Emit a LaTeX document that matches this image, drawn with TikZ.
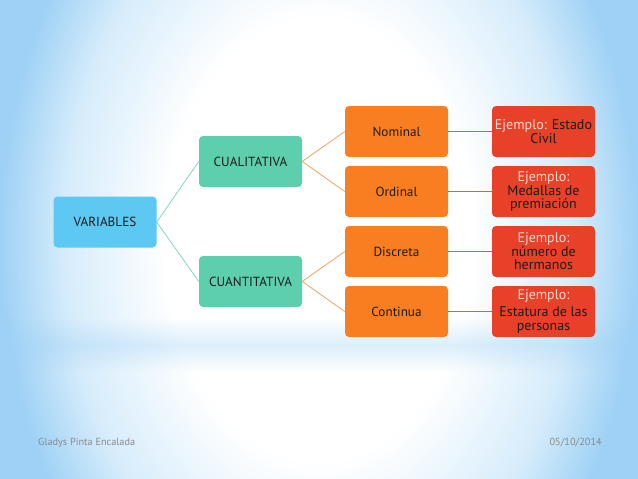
\documentclass[tikz,border=0pt]{standalone}
\usepackage{fontspec}
\setmainfont{PT Sans}
\usetikzlibrary{fadings}
\definecolor{bgblue}{HTML}{9ED1F5}
\definecolor{bgmid}{HTML}{D6ECFB}
\definecolor{varblue}{HTML}{5DC8F2}
\definecolor{teal}{HTML}{5DCFAF}
\definecolor{orng}{HTML}{F97E22}
\definecolor{redb}{HTML}{E8412A}
\definecolor{txtdark}{HTML}{1C1C1C}
\definecolor{lighttxt}{HTML}{FCD8CF}
\definecolor{tealline}{HTML}{86D6C4}
\definecolor{orline}{HTML}{EFA466}
\definecolor{redline}{HTML}{D8614C}
\definecolor{foot}{HTML}{8A8A8A}
\pgfdeclareradialshading{bgshade}{\pgfpoint{0bp}{0bp}}{color(0bp)=(white); color(12bp)=(white); color(20bp)=(bgmid); color(25bp)=(bgblue); color(50bp)=(bgblue)}
\tikzfading[name=bandfade, top color=transparent!100, bottom color=transparent!100, middle color=transparent!65]
\tikzset{
  box/.style={rounded corners=4pt, minimum width=103pt, minimum height=51pt, inner sep=0pt, align=center, text=txtdark, font=\fontsize{13.2}{15}\selectfont},
  varbox/.style={box, fill=varblue},
  catbox/.style={box, fill=teal},
  typbox/.style={box, fill=orng},
  exbox/.style={box, fill=redb, font=\fontsize{14}{13.6}\selectfont},
  tline/.style={draw=tealline, line width=0.8pt},
  oline/.style={draw=orline, line width=0.8pt},
  rline/.style={draw=redline, line width=0.9pt},
  foottxt/.style={text=foot, font=\fontsize{10.3}{11}\selectfont, inner sep=0pt}
}
\newcommand{\ej}{\textcolor{lighttxt}{Ejemplo:}}
\begin{document}
\begin{tikzpicture}[x=1pt,y=-1pt]
\useasboundingbox (0,0) rectangle (638,479);
\begin{scope}
\clip (0,0) rectangle (638,479);
\shade[shading=bgshade] (0,-220) rectangle (638,699);
\fill[bgblue, path fading=bandfade] (0,318) rectangle (638,372);
\end{scope}
% nodes
\node[varbox] (var) at (105,222) {VARIABLES};
\node[catbox] (cual) at (250.5,161.5) {CUALITATIVA};
\node[catbox] (cuan) at (250.5,281.5) {CUANTITATIVA};
\node[typbox] (nom) at (396.5,131.5) {Nominal};
\node[typbox] (ord) at (396.5,191.5) {Ordinal};
\node[typbox] (dis) at (396.5,251.5) {Discreta};
\node[typbox] (con) at (396.5,311.5) {Continua};
\node[exbox] (e1) at (543.5,131.5) {\ej{} Estado\\Civil};
\node[exbox] (e2) at (543.5,191.5) {\ej\\Medallas de\\premiación};
\node[exbox] (e3) at (543.5,251.5) {\ej\\número de\\hermanos};
\node[exbox] (e4) at (543.5,311.5) {\ej\\[3pt]Estatura de las\\personas};
% connectors
\draw[tline] (var.east) -- (cual.west);
\draw[tline] (var.east) -- (cuan.west);
\draw[oline] (cual.east) -- (nom.west);
\draw[oline] (cual.east) -- (ord.west);
\draw[oline] (cuan.east) -- (dis.west);
\draw[oline] (cuan.east) -- (con.west);
\draw[rline] (nom.east) -- (e1.west);
\draw[rline] (ord.east) -- (e2.west);
\draw[rline] (dis.east) -- (e3.west);
\draw[rline] (con.east) -- (e4.west);
% footer
\node[foottxt, anchor=west] (author) at (38,443) {Gladys Pinta Encalada};
\node[foottxt, anchor=east] (date) at (602,443) {05/10/2014};
\end{tikzpicture}
\end{document}
